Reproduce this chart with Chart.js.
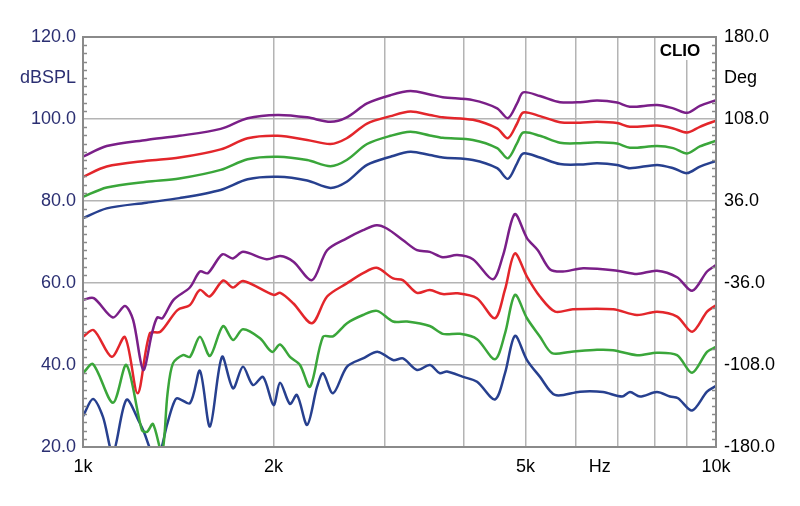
<!DOCTYPE html>
<html>
<head>
<meta charset="utf-8">
<script src="https://cdn.jsdelivr.net/npm/chart.js@4"></script>
<style>
  html, body { margin: 0; padding: 0; background: #fff; }
  #wrap { width: 800px; height: 506px; }
</style>
</head>
<body>
<div id="wrap"><canvas id="clio"></canvas></div>
<script>
// frequency (Hz) grid + labels
const xGrid = [1000, 2000, 3000, 4000, 5000, 6000, 7000, 8000, 9000, 10000]
const xLabels = { 1000: '1k', 2000: '2k', 5000: '5k', 10000: '10k' }

// upper curves share one frequency list
const freqUpper = [1000,1090,1260,1420,1650,1820,2030,2260,2460,2610,2810,3060,3290,3530,3700,4130,4510,4690,4850,4960,5270,5670,6100,6490,6980,7310,8070,8560,9000,9430,10000]
const purpleUpper = [90.8,93.4,94.9,95.9,97.6,100.2,101.0,100.4,99.3,100.4,103.8,105.8,106.8,106.0,105.3,104.6,102.6,100.2,103.8,106.5,105.6,104.1,104.1,104.5,104.0,103.0,103.4,102.6,101.5,103.2,104.6]
const redUpper = [85.9,88.4,89.8,90.6,92.6,95.3,95.9,94.9,93.9,95.3,98.9,100.7,101.8,101.0,100.4,99.8,97.7,95.3,98.9,101.6,100.7,99.2,99.1,99.3,99.0,98.1,98.4,97.7,96.7,98.1,99.6]
const greenUpper = [81.0,83.3,84.7,85.5,87.6,90.2,90.8,90.0,88.5,90.0,93.9,95.9,96.9,96.0,95.4,94.9,92.9,90.4,94.1,96.7,95.9,94.2,94.1,94.3,94.0,93.0,93.4,92.9,91.6,93.3,94.7]
const blueUpper = [75.8,78.2,79.6,80.7,82.7,85.3,85.9,85.0,83.2,84.7,88.8,90.8,92.0,91.2,90.6,90.0,88.0,85.4,89.2,91.6,90.6,89.0,88.9,89.2,88.8,88.0,88.8,88.0,86.8,88.4,89.8]

// lower curves
const freqPurpleLow = [1000,1040,1115,1165,1200,1245,1285,1310,1335,1390,1475,1530,1575,1660,1725,1790,1950,2050,2150,2300,2430,2610,2770,2910,3020,3200,3370,3530,3700,3900,4130,4440,4610,4810,5030,5230,5470,5730,6170,6980,7500,8070,8680,9170,9680,10000]
const purpleLow = [55.9,56.3,51.6,54.4,51.0,38.8,47.7,51.6,51.4,55.9,58.9,62.8,62.4,67.0,66.0,67.6,65.8,66.6,65.2,60.7,68.0,70.9,72.9,74.1,73.3,70.5,68.0,67.6,66.3,66.8,65.8,60.9,66.8,76.8,70.9,68.0,63.3,62.8,63.6,63.0,62.2,63.0,61.4,58.1,62.8,64.4]

const freqRedLow = [1000,1040,1110,1165,1220,1275,1325,1410,1475,1530,1585,1665,1725,1790,2000,2050,2150,2300,2430,2610,2770,2910,3090,3200,3370,3530,3700,3900,4190,4475,4640,4810,5030,5270,5570,5940,6880,7500,8070,8680,9170,9680,10000]
const redLow = [46.9,48.5,42.0,46.8,33.1,47.7,48.1,53.4,54.6,58.3,56.7,60.6,58.9,60.5,57.1,57.6,55.0,50.2,56.7,59.9,62.4,63.7,61.1,60.7,57.6,58.3,57.3,57.5,56.3,51.4,58.3,67.2,61.5,56.7,53.0,53.6,53.6,52.2,53.0,51.8,48.1,53.0,54.6]

const freqGreenLow = [1000,1037,1115,1171,1239,1262,1290,1333,1360,1387,1438,1476,1530,1587,1664,1726,1789,1904,1989,2048,2123,2202,2284,2394,2483,2613,2769,2914,3089,3250,3530,3700,3941,4193,4475,4642,4813,5028,5272,5506,5878,6486,6877,7502,8068,8678,9165,9679,10000]
const greenLow = [38.0,40.2,30.8,40.0,24.1,23.7,25.6,18.5,33.0,40.4,42.4,42.0,46.9,42.2,49.5,46.1,48.7,46.5,43.2,45.0,42.0,40.0,34.7,46.9,47.0,50.2,52.2,53.2,50.6,50.6,49.5,47.6,47.6,46.3,41.4,47.7,57.1,51.4,46.9,42.9,43.2,43.7,43.6,42.4,43.0,42.4,38.1,43.2,44.4]

const freqBlueLow = [1000,1037,1075,1115,1171,1230,1250,1285,1313,1358,1387,1408,1476,1530,1587,1658,1726,1789,1856,1925,2000,2048,2123,2178,2260,2343,2394,2483,2613,2769,2924,3089,3203,3371,3533,3660,3758,3985,4193,4475,4642,4813,5028,5272,5567,6098,6631,7105,7313,7585,8068,8460,8710,9165,9679,10000]
const blueLow = [27.5,31.7,27.4,18.5,31.5,25.8,23.4,18.5,17.0,25.5,30.2,31.9,30.7,38.6,25.0,42.0,34.3,39.6,35.1,37.1,30.2,35.7,30.5,32.7,25.4,34.7,38.0,33.1,39.6,41.6,43.2,41.2,41.6,38.8,40.0,38.0,38.4,37.1,35.9,31.6,38.0,47.1,41.2,37.1,32.7,33.5,33.4,32.3,33.4,32.3,33.4,32.3,31.9,28.9,33.5,34.9]

const PURPLE = '#7a1f88'
const RED = '#e3262b'
const GREEN = '#3aa63a'
const BLUE = '#27408f'

const pts = (fs, vs) => fs.map((f, i) => ({ x: f, y: vs[i] }))
const line = (fs, vs, color) => ({
    data: pts(fs, vs),
    borderColor: color,
    borderWidth: 2.5,
    pointRadius: 0,
    tension: 0.3,
    clip: 0,
    yAxisID: 'y',
})

const FONT = 'Liberation Sans, Arial, sans-serif'

// border, inner minor ticks and the extra labels
const decor = {
    id: 'decor',
    afterDatasetsDraw(chart) {
        const { ctx, chartArea: a, scales } = chart
        const y = scales.y
        ctx.save()
        ctx.strokeStyle = '#8a8a8a'
        ctx.lineWidth = 1.5
        for (let v = 22; v < 120; v += 2) {
            if (v % 20 === 0) continue
            const py = Math.round(y.getPixelForValue(v)) + 0.5
            ctx.beginPath()
            ctx.moveTo(a.left, py); ctx.lineTo(a.left + 4, py)
            ctx.moveTo(a.right, py); ctx.lineTo(a.right - 4, py)
            ctx.stroke()
        }
        ctx.lineWidth = 2
        ctx.strokeRect(a.left, a.top, a.right - a.left, a.bottom - a.top)

        // CLIO badge
        ctx.fillStyle = '#fff'
        ctx.fillRect(657, a.top + 1, 46, 22)
        ctx.fillStyle = '#000'
        ctx.font = 'bold 17px ' + FONT
        ctx.textAlign = 'center'
        ctx.textBaseline = 'middle'
        ctx.fillText('CLIO', 680, 51)

        ctx.font = '18px ' + FONT
        const yMid = y.getPixelForValue(110)
        ctx.textAlign = 'right'
        ctx.fillStyle = '#2b2f72'
        ctx.fillText('dBSPL', a.left - 7, yMid)
        ctx.textAlign = 'left'
        ctx.fillStyle = '#000'
        ctx.fillText('Deg', a.right + 8, yMid)
        ctx.textAlign = 'center'
        ctx.fillText('Hz', scales.x.getPixelForValue(6550), 467)
        ctx.restore()
    }
}

const clioChart = new Chart(document.getElementById('clio').getContext('2d'), {
    type: 'line',
    data: {
        datasets: [
            line(freqUpper, purpleUpper, PURPLE),
            line(freqUpper, redUpper, RED),
            line(freqUpper, greenUpper, GREEN),
            line(freqUpper, blueUpper, BLUE),
            line(freqPurpleLow, purpleLow, PURPLE),
            line(freqRedLow, redLow, RED),
            line(freqGreenLow, greenLow, GREEN),
            line(freqBlueLow, blueLow, BLUE),
        ]
    },
    options: {
        responsive: true,
        maintainAspectRatio: false,
        animation: false,
        layout: { padding: { top: 37, left: 0, right: 0, bottom: 0 } },
        plugins: { legend: { display: false }, tooltip: { enabled: false } },
        scales: {
            x: {
                type: 'logarithmic',
                min: 1000,
                max: 10000,
                afterBuildTicks: (scale) => { scale.ticks = xGrid.map(v => ({ value: v })) },
                afterFit: (scale) => { scale.height = 59 },
                grid: { color: '#b4b4b4', lineWidth: 1.5, drawTicks: false },
                border: { display: false },
                ticks: {
                    autoSkip: false,
                    maxRotation: 0,
                    padding: 9,
                    color: '#000',
                    font: { family: FONT, size: 18 },
                    callback: (v) => xLabels[v] || '',
                },
            },
            y: {
                position: 'left',
                min: 20,
                max: 120,
                afterFit: (scale) => { scale.width = 83 },
                grid: { color: '#b4b4b4', lineWidth: 1.5, drawTicks: false },
                border: { display: false },
                ticks: {
                    stepSize: 20,
                    padding: 7,
                    color: '#2b2f72',
                    font: { family: FONT, size: 18 },
                    callback: (v) => v.toFixed(1),
                },
            },
            y2: {
                position: 'right',
                min: -180,
                max: 180,
                afterFit: (scale) => { scale.width = 84 },
                grid: { display: false, drawTicks: false },
                border: { display: false },
                ticks: {
                    stepSize: 72,
                    padding: 8,
                    color: '#000',
                    font: { family: FONT, size: 18 },
                    callback: (v) => v.toFixed(1),
                },
            },
        },
    },
    plugins: [decor],
});
</script>
</body>
</html>
